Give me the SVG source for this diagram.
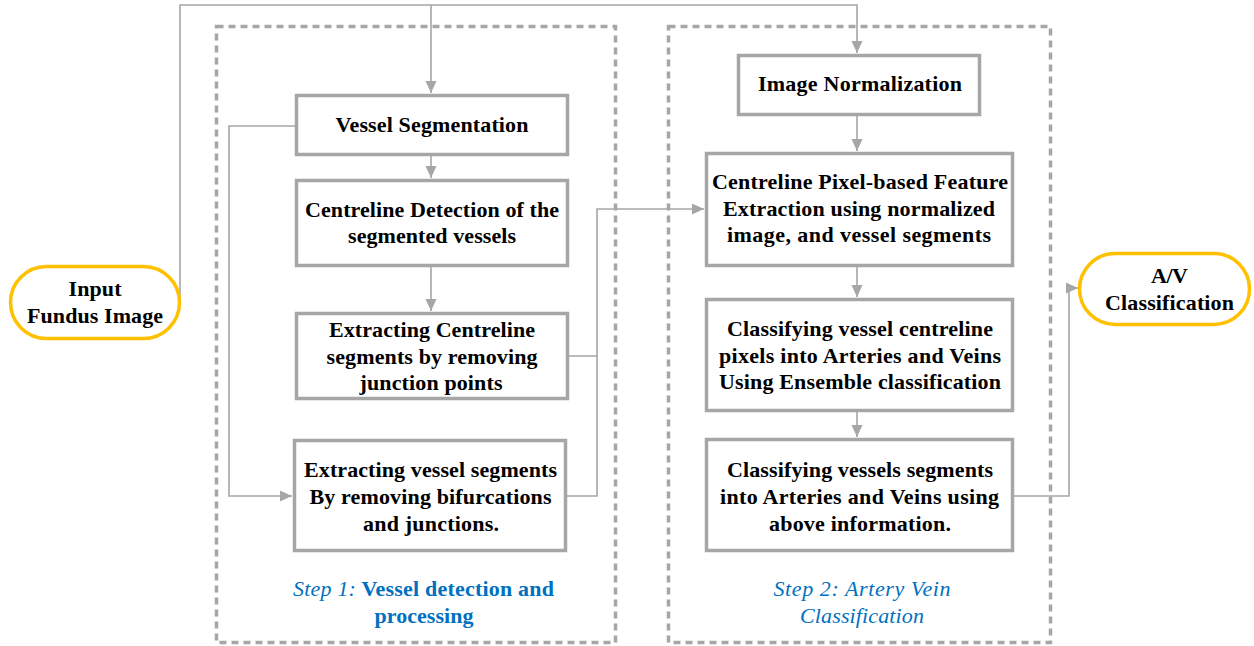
<svg xmlns="http://www.w3.org/2000/svg" width="1254" height="646" viewBox="0 0 1254 646">
<style>
.box{fill:#fff;stroke:#A6A6A6;stroke-width:3.5}
.term{fill:#fff;stroke:#FFC000;stroke-width:3.5}
.dash{fill:none;stroke:#A6A6A6;stroke-width:3.5;stroke-dasharray:7 5}
.conn{fill:none;stroke:#A6A6A6;stroke-width:1.6}
.t{font-family:"Liberation Serif","Times New Roman",serif;font-size:22px;font-weight:bold;fill:#000;text-anchor:middle}
.s{font-family:"Liberation Serif","Times New Roman",serif;font-size:22px;font-weight:bold;fill:#0070C0;text-anchor:middle}
.i{font-style:italic;font-weight:normal}
</style>
<defs>
<marker id="arr" markerUnits="userSpaceOnUse" markerWidth="13" markerHeight="12" refX="12" refY="5.5" orient="auto">
<path d="M0,0 L12,5.5 L0,11 z" fill="#A6A6A6"/>
</marker>
</defs>
<g id="containers">
<rect class="dash" x="216.5" y="26.5" width="399" height="616"/>
<rect class="dash" x="668.5" y="26.5" width="382" height="616"/>
</g>
<g id="connectors">
<path class="conn" d="M180,302 V5 H857 V53" marker-end="url(#arr)"/>
<path class="conn" d="M431,5 V93" marker-end="url(#arr)"/>
<path class="conn" d="M431,156 V178" marker-end="url(#arr)"/>
<path class="conn" d="M431,267 V311" marker-end="url(#arr)"/>
<path class="conn" d="M295,126 H229 V496 H292" marker-end="url(#arr)"/>
<path class="conn" d="M569,356 H597 V209 H704" marker-end="url(#arr)"/>
<path class="conn" d="M567,496 H597 V356"/>
<path class="conn" d="M857,116 V151" marker-end="url(#arr)"/>
<path class="conn" d="M857,267 V297" marker-end="url(#arr)"/>
<path class="conn" d="M857,412 V437" marker-end="url(#arr)"/>
<path class="conn" d="M1014,496 H1069 V288 H1078" marker-end="url(#arr)"/>
</g>
<g id="input">
<rect class="term" x="10.5" y="266.5" width="169" height="72" rx="36"/>
<text class="t" x="95" y="296" textLength="53">Input</text>
<text class="t" x="95" y="323" textLength="136">Fundus Image</text>
</g>
<g id="vessel-segmentation">
<rect class="box" x="296.5" y="95.5" width="271" height="59"/>
<text class="t" x="432" y="132" textLength="193">Vessel Segmentation</text>
</g>
<g id="centreline-detection">
<rect class="box" x="296.5" y="180.5" width="271" height="85"/>
<text class="t" x="432" y="217" textLength="254">Centreline Detection of the</text>
<text class="t" x="432" y="243" textLength="168">segmented vessels</text>
</g>
<g id="extracting-centreline">
<rect class="box" x="296.5" y="313.5" width="271" height="85"/>
<text class="t" x="432" y="337" textLength="206">Extracting Centreline</text>
<text class="t" x="432" y="364" textLength="211">segments by removing</text>
<text class="t" x="431" y="390" textLength="143">junction points</text>
</g>
<g id="extracting-vessel-segments">
<rect class="box" x="294.5" y="440.5" width="271" height="110"/>
<text class="t" x="430.5" y="477" textLength="253">Extracting vessel segments</text>
<text class="t" x="430.5" y="504" textLength="242">By removing bifurcations</text>
<text class="t" x="431" y="531" textLength="136">and junctions.</text>
</g>
<g id="step1-label">
<text class="s" x="423.5" y="596" textLength="261"><tspan class="i">Step 1:</tspan> Vessel detection and</text>
<text class="s" x="424" y="623" textLength="99">processing</text>
</g>
<g id="image-normalization">
<rect class="box" x="738.5" y="55.5" width="241" height="59"/>
<text class="t" x="860" y="91" textLength="204">Image Normalization</text>
</g>
<g id="feature-extraction">
<rect class="box" x="706.5" y="153.5" width="306" height="112"/>
<text class="t" x="860" y="189" textLength="296">Centreline Pixel-based Feature</text>
<text class="t" x="859" y="216" textLength="272">Extraction using normalized</text>
<text class="t" x="859" y="242" textLength="264">image,  and vessel segments</text>
</g>
<g id="classify-pixels">
<rect class="box" x="706.5" y="299.5" width="306" height="111"/>
<text class="t" x="860" y="336" textLength="266">Classifying vessel centreline</text>
<text class="t" x="860" y="363" textLength="282">pixels into Arteries and Veins</text>
<text class="t" x="860" y="389" textLength="282">Using Ensemble classification</text>
</g>
<g id="classify-segments">
<rect class="box" x="706.5" y="439.5" width="306" height="111"/>
<text class="t" x="860" y="477" textLength="266">Classifying vessels segments</text>
<text class="t" x="859.5" y="504" textLength="279">into Arteries and Veins using</text>
<text class="t" x="860" y="531" textLength="182">above information.</text>
</g>
<g id="step2-label">
<text class="s i" x="862" y="596" textLength="177">Step 2: Artery Vein</text>
<text class="s i" x="862" y="623" textLength="124">Classification</text>
</g>
<g id="av-classification">
<rect class="term" x="1079.5" y="253.5" width="170" height="71" rx="35.5"/>
<text class="t" x="1169.5" y="283" textLength="37">A/V</text>
<text class="t" x="1169.5" y="310" textLength="129">Classification</text>
</g>
</svg>
